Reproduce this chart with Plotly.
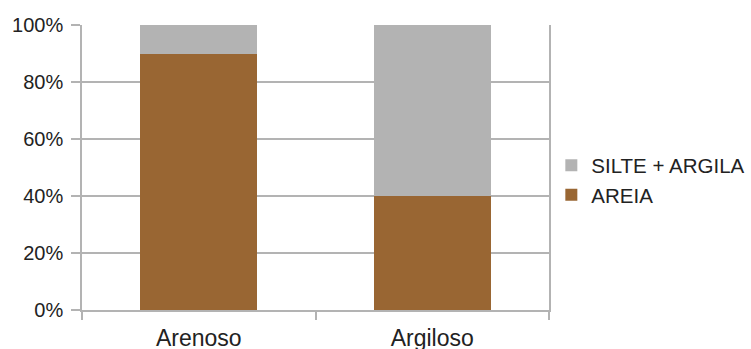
import plotly.graph_objects as go

categories = ["Arenoso", "Argiloso"]
areia = [90, 40]
silte_argila = [10, 60]
series_names = ["AREIA", "SILTE + ARGILA"]
y_ticks = [0, 20, 40, 60, 80, 100]
y_tick_labels = [f"{v}%" for v in y_ticks]

grid = "#b3b3b3"
fig = go.Figure()
fig.add_trace(go.Bar(x=categories, y=areia, name=series_names[0],
                     marker=dict(color="#996633", line=dict(width=0)), width=0.5))
fig.add_trace(go.Bar(x=categories, y=silte_argila, name=series_names[1],
                     marker=dict(color="#b3b3b3", line=dict(width=0)), width=0.5))

fig.update_layout(
    barmode="stack",
    width=751, height=349,
    margin=dict(l=82, r=202, t=25, b=39, autoexpand=False),
    plot_bgcolor="white", paper_bgcolor="white",
    font=dict(family="Liberation Sans, Arial, sans-serif", color="#222222", size=20),
    legend=dict(x=1.005, y=0.455, xanchor="left", yanchor="middle",
                traceorder="reversed", font=dict(size=20.5),
                itemwidth=30),
    showlegend=True,
)
fig.update_xaxes(showline=True, linecolor=grid, linewidth=1.5,
                 ticks="outside", tickson="boundaries", ticklen=8, tickcolor=grid,
                 tickwidth=1.5, tickfont=dict(size=23), showgrid=False,
                 ticklabelstandoff=7)
fig.update_yaxes(range=[0, 100], tickvals=y_ticks, ticktext=y_tick_labels,
                 showgrid=True, gridcolor=grid, gridwidth=1.5,
                 showline=True, linecolor=grid, linewidth=1.5, mirror=True,
                 ticks="outside", ticklen=9, tickcolor=grid, tickwidth=1.5,
                 zeroline=False, ticklabelstandoff=4)
fig.write_html("out.html")
